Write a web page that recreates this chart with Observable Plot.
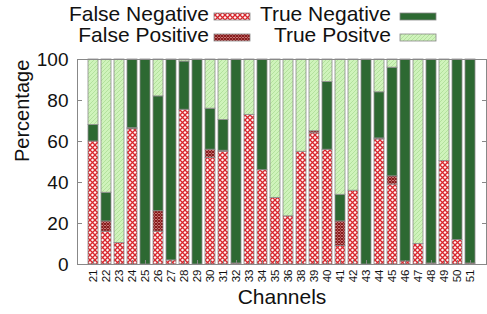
<!DOCTYPE html>
<html><head><meta charset="utf-8">
<script src="https://cdn.jsdelivr.net/npm/d3@7"></script>
<script src="https://cdn.jsdelivr.net/npm/@observablehq/plot@0.6"></script>
<style>
body{margin:0;background:#fff;font-family:"Liberation Sans",Arial,sans-serif;}
#wrap{width:487px;height:314px;position:relative;overflow:hidden;background:#fff}
#legend{display:block}
#chart svg{display:block}
</style></head><body>
<div id="wrap"><svg id="legend" width="487" height="50"></svg><div id="chart"></div></div>
<script>
const channels = ["21","22","23","24","25","26","27","28","29","30","31","32","33","34","35","36","38","39","40","41","42","43","44","45","46","47","48","49","50","51"];
const falseNegative = [60,16,10.5,66,0,16,2,75.5,0,52,55,0.5,73,46,32.5,23.5,55,64,56,9,36,0,61,39,1.5,10,0.5,50.5,12,0.5];
const falsePositive = [0,5,0,0.5,0,10,0,0,0,4,0.5,0,0,0,0,0,0,1,0,12,0,0,0.5,4,0,0,0,0,0,0];
const trueNegative  = [8,14,0,33.5,100,56,98,23.5,100,20,15,99.5,0,54,0,0,0,0,33,13,0,100,22.5,53,98.5,0,99.5,0,88,99.5];
const truePositive  = [32,65,89.5,0,0,18,0,1,0,24,29.5,0,27,0,67.5,76.5,45,35,11,66,64,0,16,4,0,90,0,49.5,0,0];
const seriesNames = ["False Negative","False Positive","True Negative","True Positve"];
const yTicks = [0,20,40,60,80,100];

const fills = ["url(#pFN)","url(#pFP)","#2d6932","url(#pTP)"];
const seriesArrays = [falseNegative,falsePositive,trueNegative,truePositive];

const data = [];
channels.forEach((ch,i)=>{
  seriesArrays.forEach((arr,k)=>{
    if (arr[i] > 0) data.push({ch, type: seriesNames[k], v: arr[i]});
  });
});

// legend + pattern defs
const leg = d3.select("#legend");
leg.append("defs").html(`
<pattern id="pTP" patternUnits="userSpaceOnUse" width="4" height="4">
  <rect width="4" height="4" fill="#cff3bb"/>
  <path d="M-1,1 l2,-2 M0,4 l4,-4 M3,5 l2,-2" stroke="#acdc95" stroke-width="0.8"/>
</pattern>
<pattern id="pFN" patternUnits="userSpaceOnUse" width="5" height="5">
  <rect width="5" height="5" fill="#fff4f4"/>
  <path d="M0,0 L5,5 M5,0 L0,5" stroke="#d8262c" stroke-width="1.3"/>
</pattern>
<pattern id="pFP" patternUnits="userSpaceOnUse" width="3" height="3">
  <rect width="3" height="3" fill="#e6a0a0"/>
  <path d="M0,0 L3,3 M3,0 L0,3" stroke="#851818" stroke-width="1.2"/>
</pattern>`);
const legItems = [
  {name: seriesNames[0], fill: fills[0], tx: 209, sx: 214, row: 0},
  {name: seriesNames[2], fill: fills[2], tx: 391, sx: 400, row: 0},
  {name: seriesNames[1], fill: fills[1], tx: 209, sx: 214, row: 1},
  {name: seriesNames[3], fill: fills[3], tx: 391, sx: 400, row: 1}
];
legItems.forEach(it=>{
  const by = it.row ? 42 : 21;
  leg.append("text").attr("x", it.tx).attr("y", by).attr("text-anchor","end")
    .attr("font-size", 21).attr("fill","#111").text(it.name);
  leg.append("rect").attr("x", it.sx).attr("y", by-8).attr("width", 36).attr("height", 7)
    .attr("fill", it.fill).attr("stroke","#888").attr("stroke-width",0.8);
});

const chart = Plot.plot({
  width: 487, height: 264,
  marginTop: 9, marginBottom: 50, marginLeft: 77, marginRight: 1,
  style: {fontFamily: '"Liberation Sans",Arial,sans-serif', background: "white", overflow: "visible", color: "#111"},
  x: {type: "band", domain: channels, paddingInner: 0.24, paddingOuter: 0.65, label: null},
  y: {domain: [0,100], label: null},
  color: {domain: seriesNames, range: fills},
  marks: [
    Plot.barY(data, {x: "ch", y: "v", fill: "type", stroke: "#8a8a8a", strokeWidth: 0.8}),
    Plot.axisY({anchor: "left", ticks: yTicks, tickSize: -5, tickPadding: 14, fontSize: 19, label: null, stroke: "#888", fill: "#111"}),
    Plot.axisY({anchor: "right", ticks: yTicks, tickSize: -5, tickFormat: () => "", label: null, stroke: "#888"}),
    Plot.axisX({anchor: "bottom", tickRotate: -90, tickSize: -4, tickPadding: 9, fontSize: 11.5, label: null, stroke: "#888", fill: "#111"}),
    Plot.text(["Percentage"], {text: d => d, frameAnchor: "left", rotate: -90, dx: -55, fontSize: 20, fill: "#111"}),
    Plot.text(["Channels"], {text: d => d, frameAnchor: "bottom", dy: 39, fontSize: 21, fill: "#111"}),
    Plot.frame({stroke: "#888"})
  ]
});
document.getElementById("chart").appendChild(chart);
</script>
</body></html>
